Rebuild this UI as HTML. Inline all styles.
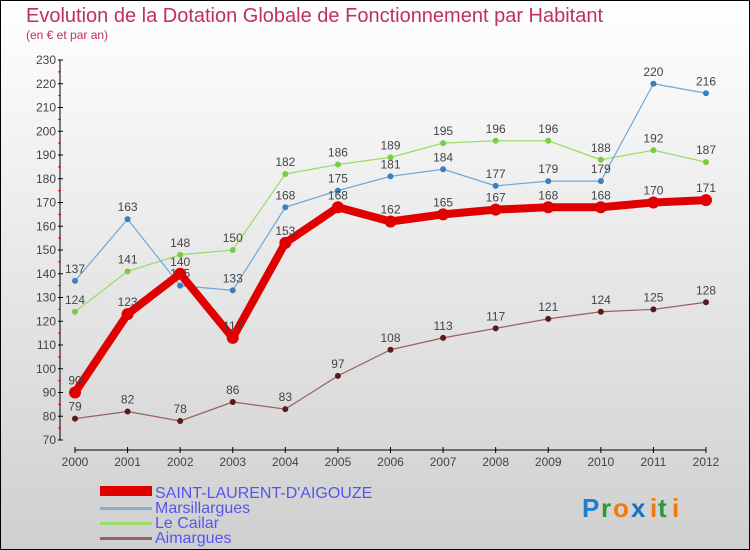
<!DOCTYPE html>
<html><head><meta charset="utf-8"><style>
body{margin:0}
svg{display:block;font-family:"Liberation Sans",sans-serif}
</style></head><body>
<svg id="c" width="750" height="550" xmlns="http://www.w3.org/2000/svg">
<defs><linearGradient id="bg" x1="0" y1="0" x2="0" y2="1"><stop offset="0" stop-color="#ffffff"/><stop offset="1" stop-color="#cfcfcf"/></linearGradient></defs>
<rect x="0.5" y="0.5" width="749" height="549" fill="url(#bg)" stroke="#000"/>
<text x="26" y="22" font-size="20" fill="#c0305a">Evolution de la Dotation Globale de Fonctionnement par Habitant</text>
<text x="26" y="39" font-size="12" fill="#c0305a">(en € et par an)</text>
<g id="axes"></g><g id="series"></g>
<g>
<rect x="100" y="486" width="52" height="10" fill="#e00000"/>
<text x="155" y="498" font-size="16" fill="#5555ee">SAINT-LAURENT-D'AIGOUZE</text>
<rect x="100" y="507" width="52" height="3" fill="#7fb0d8"/>
<text x="155" y="513" font-size="16" fill="#5555ee">Marsillargues</text>
<rect x="100" y="522" width="52" height="3" fill="#99dd66"/>
<text x="155" y="528" font-size="16" fill="#5555ee">Le Cailar</text>
<rect x="100" y="537" width="52" height="3" fill="#9a6060"/>
<text x="155" y="543" font-size="16" fill="#5555ee">Aimargues</text>
</g>
<g font-size="26" font-weight="bold">
<text x="582" y="517" fill="#1a7fd0">P</text><text x="601" y="517" fill="#2a9a3a">r</text><text x="613" y="517" fill="#f07a10">o</text><text x="631" y="517" fill="#1a6fc0">x</text><text x="650" y="517" fill="#f07a10">i</text><text x="658" y="517" fill="#2a9a3a">t</text><text x="672" y="517" fill="#f07a10">i</text>
</g>
</svg>
<script>
const years=["2000","2001","2002","2003","2004","2005","2006","2007","2008","2009","2010","2011","2012"];
const yTicks=[70,80,90,100,110,120,130,140,150,160,170,180,190,200,210,220,230];
const slaValues=[90,123,140,113,153,168,162,165,167,168,168,170,171];
const marsValues=[137,163,135,133,168,175,181,184,177,179,179,220,216];
const cailarValues=[124,141,148,150,182,186,189,195,196,196,188,192,187];
const aimValues=[79,82,78,86,83,97,108,113,117,121,124,125,128];
const NS="http://www.w3.org/2000/svg";
const x=i=>75+i*(706-75)/12;
const y=v=>440-(v-70)*380/160;
function mk(t,a,p){const e=document.createElementNS(NS,t);for(const k in a)e.setAttribute(k,a[k]);p.appendChild(e);return e;}
const ax=document.getElementById('axes');
const yl=mk('line',{x1:60,y1:60,x2:60,y2:440,stroke:'#000'},ax);


const xl=mk('line',{x1:75,y1:450,x2:706,y2:450,stroke:'#000'},ax);


yTicks.forEach((t,i)=>{
 mk('line',{x1:58,x2:63,y1:y(t),y2:y(t),stroke:'#000'},ax);
 if(i<yTicks.length-1) mk('line',{x1:58,x2:61,y1:y(t+5),y2:y(t+5),stroke:'#e00'},ax);
 const tx=mk('text',{x:56,y:y(t)+4,'font-size':12,fill:'#444','text-anchor':'end'},ax);tx.textContent=t;
 
 
});
years.forEach((yr,i)=>{
 mk('line',{x1:x(i),x2:x(i),y1:447,y2:453,stroke:'#000'},ax);
 const tx=mk('text',{x:x(i),y:466,'font-size':12,fill:'#444','text-anchor':'middle'},ax);tx.textContent=yr;
 
 
});
const sg=document.getElementById('series');
function series(vals,name,lc,dc,lw,r){
 const g=mk('g',{},sg);
 
 
 const p=mk('polyline',{points:vals.map((v,i)=>x(i)+','+y(v)).join(' '),fill:'none',stroke:lc,'stroke-width':lw,'stroke-linejoin':'round'},g);
 
 
 vals.forEach((v,i)=>{
  const c=mk('circle',{cx:x(i),cy:y(v),r:r,fill:dc},g);
  
  
  const t=mk('text',{x:x(i),y:y(v)-8,'font-size':12,fill:'#444','text-anchor':'middle'},g);t.textContent=v;
  
  
 });
}
series(aimValues,'aimargues','#9a6060','#5a1a1a',1.2,3);
series(cailarValues,'le-cailar','#99dd66','#77cc44',1.2,3);
series(marsValues,'marsillargues','#6fa8d8','#3a7fbf',1.2,3);
series(slaValues,'saint-laurent','#e00000','#e00000',8,6);
</script>
</body></html>
